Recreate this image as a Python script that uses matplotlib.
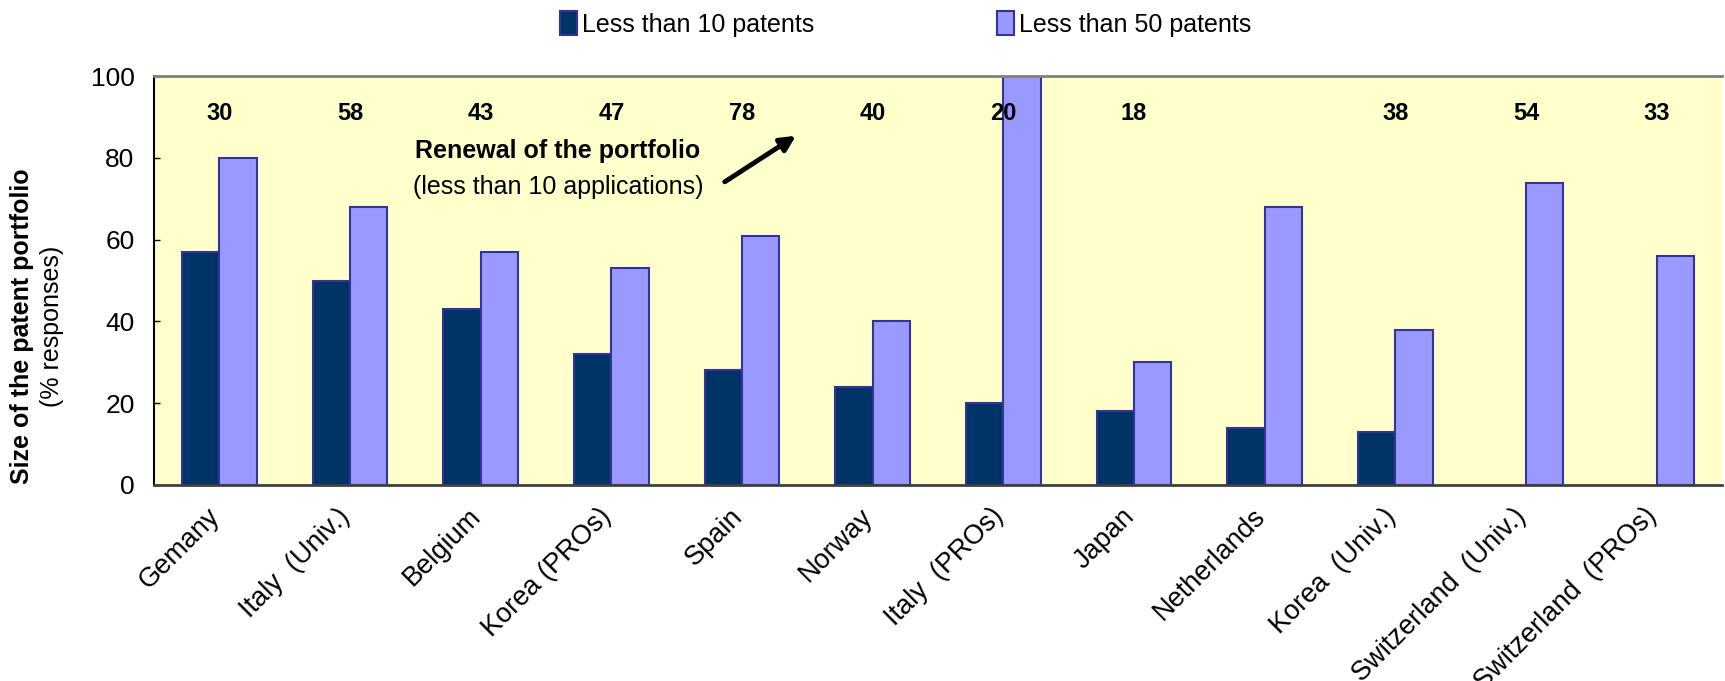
import matplotlib
matplotlib.use('Agg')
import matplotlib.pyplot as plt
import matplotlib.transforms as mtransforms
import numpy as np

plt.rcParams['font.family'] = ['Liberation Sans', 'DejaVu Sans']

# 데이터
countries = ['Gemany', 'Italy  (Univ.)', 'Belgium', 'Korea (PROs)', 'Spain', 'Norway',
             'Italy  (PROs)', 'Japan', 'Netherlands', 'Korea  (Univ.)',
             'Switzerland  (Univ.)', 'Switzerland  (PROs)']
less_10 = [57, 50, 43, 32, 28, 24, 20, 18, 14, 13, None, None]
less_50 = [80, 68, 57, 53, 61, 40, 100, 30, 68, 38, 74, 56]
renewal = ['30', '58', '43', '47', '78', '40', '20', '18', '', '38', '54', '33']

dark = '#003366'
light = '#9999FF'
edge = '#333399'

fig = plt.figure(figsize=(17.25, 6.81), dpi=100)
ax = fig.add_axes([0.0893, 0.288, 0.909, 0.6])
ax.set_facecolor('#FFFFCC')

x = np.arange(len(countries)) + 0.5
w = 0.285
# 값이 없는 막대는 그리지 않음
x10 = [xi for xi, v in zip(x, less_10) if v is not None]
v10 = [v for v in less_10 if v is not None]
ax.bar(np.array(x10) - w / 2, v10, w, color=dark, edgecolor=edge, linewidth=1.5,
       label='Less than 10 patents', zorder=2)
ax.bar(x + w / 2, less_50, w, color=light, edgecolor=edge, linewidth=1.5,
       label='Less than 50 patents', zorder=2)

# 상단 숫자 (포트폴리오 갱신)
for xi, t in zip(x, renewal):
    ax.text(xi, 91, t, ha='center', va='center', fontsize=17, fontweight='bold', zorder=3)

ax.text(3.09, 81.7, 'Renewal of the portfolio', ha='center', va='center',
        fontsize=18, fontweight='bold')
ax.text(3.09, 72.8, '(less than 10 applications)', ha='center', va='center', fontsize=18)
ax.annotate('', xy=(4.93, 85.8), xytext=(4.35, 73.8),
            arrowprops=dict(arrowstyle='-|>,head_length=0.9,head_width=0.45',
                            color='black', lw=3.5))

ax.set_xlim(0, len(countries))
ax.set_ylim(0, 100)
ax.set_yticks([0, 20, 40, 60, 80, 100])
ax.tick_params(axis='y', labelsize=19, direction='in', length=4, width=1, pad=14)
ax.set_xticks(x)
ax.set_xticklabels(countries, rotation=45, ha='right', rotation_mode='anchor', fontsize=19.5)
ax.tick_params(axis='x', length=0, pad=16)

# x축 레이블 약간 왼쪽으로 이동
shift = mtransforms.ScaledTranslation(-0.13, 0.04, fig.dpi_scale_trans)
for lbl in ax.get_xticklabels():
    lbl.set_transform(lbl.get_transform() + shift)

ax.spines['right'].set_visible(False)
ax.spines['top'].set_color('#808080')
ax.spines['top'].set_linewidth(2)
ax.spines['bottom'].set_color('#404040')
ax.spines['bottom'].set_linewidth(2)
ax.spines['left'].set_color('black')
ax.spines['left'].set_linewidth(1.5)

fig.text(0.0128, 0.521, 'Size of the patent portfolio', rotation=90, ha='center',
         va='center', fontsize=18, fontweight='bold')
fig.text(0.030, 0.521, '(% responses)', rotation=90, ha='center', va='center', fontsize=18)

leg = fig.legend(loc='center', bbox_to_anchor=(0.525, 0.965), ncol=2, frameon=False,
                 fontsize=18, handlelength=0.7, handleheight=1.1, handletextpad=0.2,
                 columnspacing=7.3)

fig.savefig('out.png', dpi=100, facecolor='white')
plt.close('all')
